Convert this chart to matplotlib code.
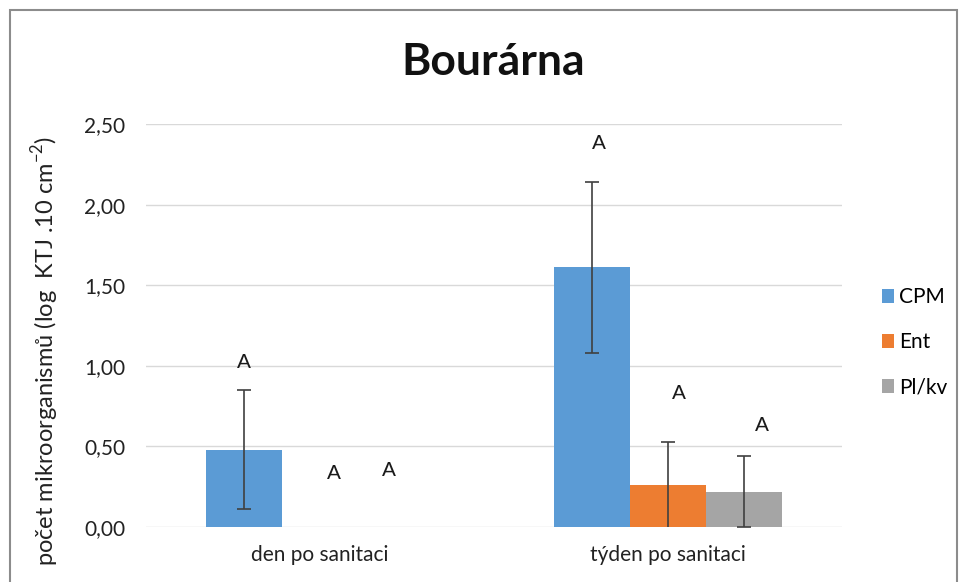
import matplotlib.pyplot as plt
import numpy as np
from matplotlib.patches import Rectangle

plt.rcParams['font.family'] = ['Lato', 'DejaVu Sans']

# Data
categories = ['den po sanitaci', 'týden po sanitaci']
series = ['CPM', 'Ent', 'Pl/kv']
cpm = [0.48, 1.61]
ent = [0.0, 0.26]
plkv = [0.0, 0.22]
cpm_err = [0.37, 0.53]
ent_err = [0.0, 0.27]
plkv_err = [0.0, 0.22]
letters = ['A', 'A', 'A']
colors = ['#5B9BD5', '#ED7D31', '#A5A5A5']

values = [cpm, ent, plkv]
errors = [cpm_err, ent_err, plkv_err]

# where the significance letters sit (value axis) and their small x nudges
letter_y = [[1.02, 2.38], [0.33, 0.83], [0.35, 0.63]]
letter_dx = [[0.0, 0.02], [0.04, 0.03], [-0.02, 0.05]]

fig = plt.figure(figsize=(9.63, 5.82), dpi=100)
ax = fig.add_axes([0.1516, 0.0945, 0.7227, 0.6924])

x = np.arange(len(categories))
width = 0.219

for i, (name, vals, errs, col) in enumerate(zip(series, values, errors, colors)):
    pos = x + (i - 1) * width
    ax.bar(pos, vals, width, color=col, label=name, zorder=2)
    show = [j for j, e in enumerate(errs) if e > 0]
    ax.errorbar(pos[show], np.array(vals)[show], yerr=np.array(errs)[show],
                fmt='none', ecolor='#404040', elinewidth=1.2, capsize=5,
                capthick=1.2, zorder=3)
    for j in range(len(categories)):
        ax.text(pos[j] + letter_dx[i][j], letter_y[i][j], letters[i],
                ha='center', va='center', fontsize=15,
                family=['Liberation Sans'], color='#1a1a1a', zorder=4)

ax.set_ylim(0, 2.5)
ax.set_xlim(-0.5, 1.5)
ticks = np.arange(0, 2.51, 0.5)
ax.set_yticks(ticks)
ax.set_yticklabels([f'{t:.2f}'.replace('.', ',') for t in ticks])
ax.set_xticks(x)
ax.set_xticklabels(categories)
ax.tick_params(axis='both', length=0, labelsize=15, colors='#404040', labelcolor='#222222')
ax.tick_params(axis='y', pad=15)
ax.tick_params(axis='x', pad=13)
ax.grid(axis='y', color='#d9d9d9', linewidth=1.0, zorder=0)
ax.set_axisbelow(True)
for s in ax.spines.values():
    s.set_visible(False)

fig.text(0.512, 0.893, 'Bourárna', ha='center', va='center',
         fontsize=32, fontweight='bold', color='#111111')
fig.text(0.047, 0.397, r'počet mikroorganismů (log  KTJ .10 cm$^{\mathregular{-2}}$)',
         rotation=90, ha='center', va='center', fontsize=17, color='#222222')

ax.legend(loc='center left', bbox_to_anchor=(1.045, 0.458), frameon=False,
          fontsize=15, handlelength=0.6, handleheight=0.6,
          handletextpad=0.25, labelspacing=1.2, borderaxespad=0)

# chart frame
fig.patches.append(Rectangle((10 / 963, -0.05), 947 / 963, 1.05 - 10 / 582,
                             transform=fig.transFigure, fill=False,
                             edgecolor='#8c8c8c', linewidth=1.5))

fig.savefig('out.png', dpi=100)
